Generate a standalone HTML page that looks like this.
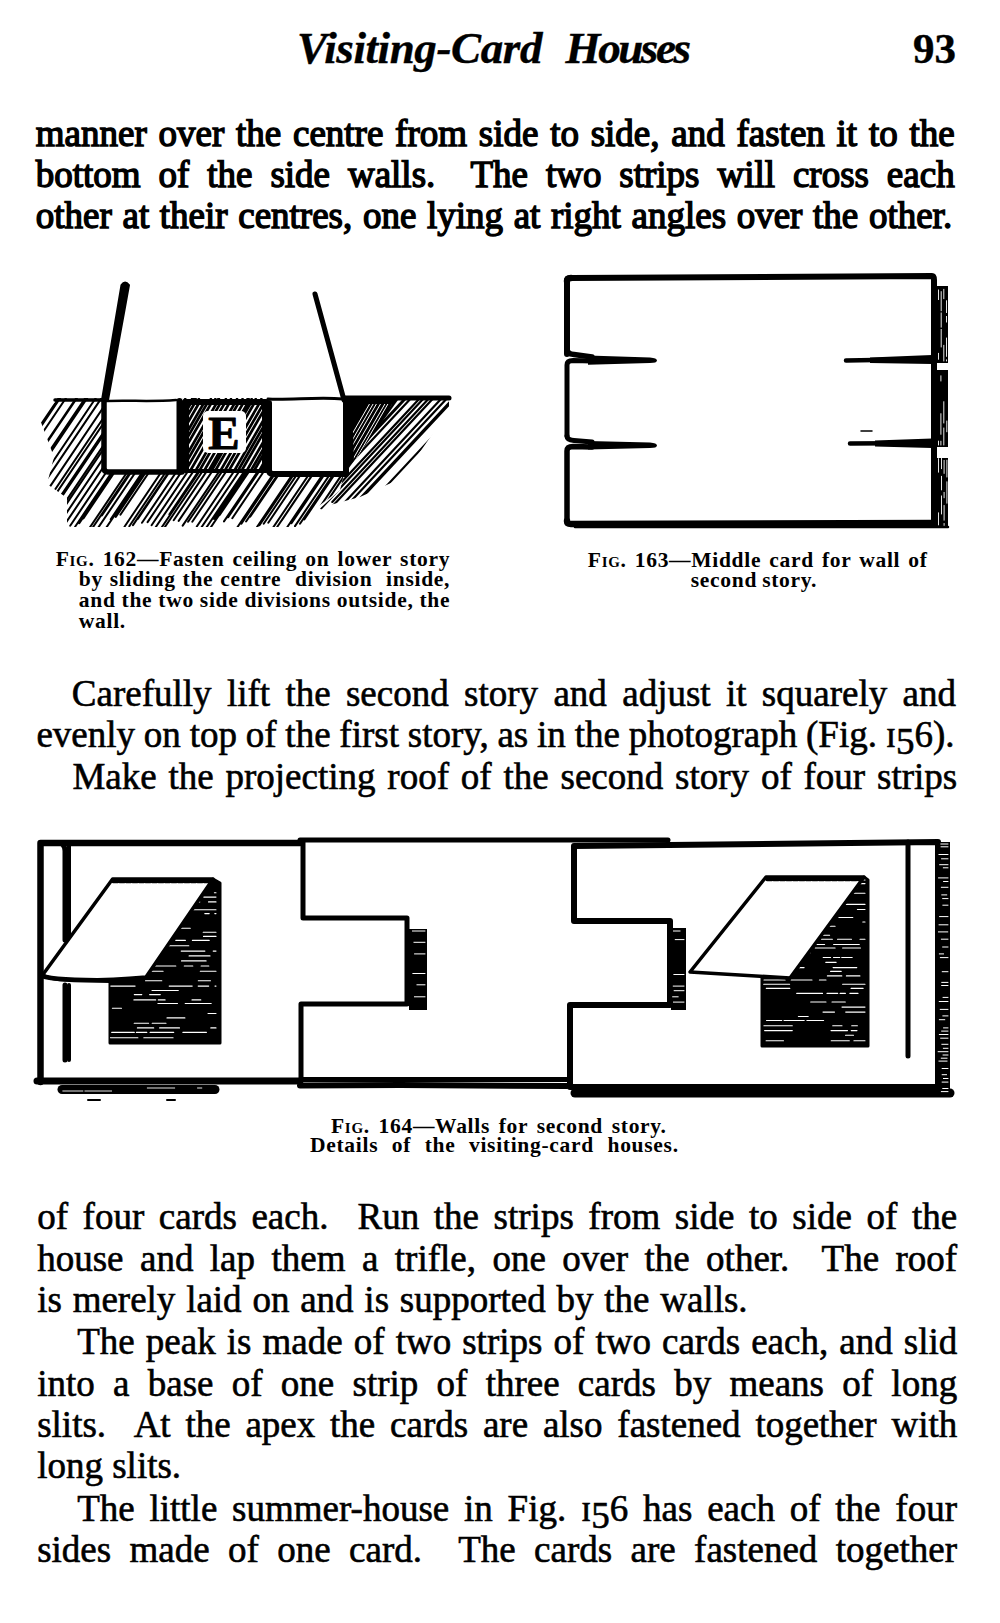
<!DOCTYPE html><html><head><meta charset="utf-8"><style>
html,body{margin:0;padding:0;background:#fff}
#pg{position:relative;width:1000px;height:1623px;overflow:hidden;background:#fff;font-family:"Liberation Serif",serif;color:#000}
.l{position:absolute;white-space:pre;margin:0}
.sc{font-variant:small-caps}
.o5{position:relative;top:7px}
.b1{-webkit-text-stroke:1.4px #000}
.b{-webkit-text-stroke:0.6px #000}
.c{}
.h{-webkit-text-stroke:0.4px #000}
svg{position:absolute;left:0;top:0}
</style></head><body><div id="pg">
<div class="l h" style="left:297.0px;top:25.8px;font-size:45px;line-height:45px;font-weight:700;font-style:italic;letter-spacing:-0.39px;">Visiting-Card</div>
<div class="l h" style="left:565.6px;top:25.8px;font-size:45px;line-height:45px;font-weight:700;font-style:italic;letter-spacing:-2.43px;">Houses</div>
<div class="l h" style="left:913.0px;top:27.0px;font-size:43px;line-height:43px;font-weight:700;">93</div>
<div class="l b1" style="left:35.8px;top:115.0px;font-size:37px;line-height:37px;word-spacing:2.51px;">manner over the centre from side to side, and fasten it to the</div>
<div class="l b1" style="left:35.8px;top:156.0px;font-size:37px;line-height:37px;word-spacing:8.67px;">bottom of the side walls.  The two strips will cross each</div>
<div class="l b1" style="left:35.8px;top:197.0px;font-size:37px;line-height:37px;word-spacing:1.39px;">other at their centres, one lying at right angles over the other.</div>
<div class="l b" style="left:71.8px;top:675.0px;font-size:37px;line-height:37px;word-spacing:6.11px;">Carefully lift the second story and adjust it squarely and</div>
<div class="l b" style="left:36.4px;top:716.0px;font-size:37px;line-height:37px;word-spacing:-0.44px;">evenly on top of the first story, as in the photograph (Fig. <span class="o1">ɪ</span><span class="o5">5</span>6).</div>
<div class="l b" style="left:72.4px;top:758.0px;font-size:37px;line-height:37px;word-spacing:2.58px;">Make the projecting roof of the second story of four strips</div>
<div class="l b" style="left:37.2px;top:1198.4px;font-size:37px;line-height:37px;word-spacing:5.32px;">of four cards each.  Run the strips from side to side of the</div>
<div class="l b" style="left:37.2px;top:1239.6px;font-size:37px;line-height:37px;word-spacing:7.20px;">house and lap them a trifle, one over the other.  The roof</div>
<div class="l b" style="left:37.2px;top:1281.0px;font-size:37px;line-height:37px;word-spacing:1.52px;">is merely laid on and is supported by the walls.</div>
<div class="l b" style="left:77.2px;top:1323.4px;font-size:37px;line-height:37px;word-spacing:1.84px;">The peak is made of two strips of two cards each, and slid</div>
<div class="l b" style="left:37.2px;top:1364.6px;font-size:37px;line-height:37px;word-spacing:9.02px;">into a base of one strip of three cards by means of long</div>
<div class="l b" style="left:37.2px;top:1406.0px;font-size:37px;line-height:37px;word-spacing:5.55px;">slits.  At the apex the cards are also fastened together with</div>
<div class="l b" style="left:37.2px;top:1447.4px;font-size:37px;line-height:37px;">long slits.</div>
<div class="l b" style="left:77.2px;top:1490.0px;font-size:37px;line-height:37px;word-spacing:5.54px;">The little summer-house in Fig. <span class="o1">ɪ</span><span class="o5">5</span>6 has each of the four</div>
<div class="l b" style="left:37.2px;top:1531.0px;font-size:37px;line-height:37px;word-spacing:9.14px;">sides made of one card.  The cards are fastened together</div>
<div class="l c" style="left:55.7px;top:549.0px;font-size:21.5px;line-height:21.5px;font-weight:700;letter-spacing:0.7px;word-spacing:2.08px;">F<span class="sc">ig</span>. 162—Fasten ceiling on lower story</div>
<div class="l c" style="left:78.8px;top:569.0px;font-size:21.5px;line-height:21.5px;font-weight:700;letter-spacing:0.7px;word-spacing:0.81px;">by sliding the centre  division  inside,</div>
<div class="l c" style="left:78.8px;top:590.0px;font-size:21.5px;line-height:21.5px;font-weight:700;letter-spacing:0.7px;word-spacing:-0.09px;">and the two side divisions outside, the</div>
<div class="l c" style="left:78.8px;top:611.0px;font-size:21.5px;line-height:21.5px;font-weight:700;letter-spacing:0.7px;">wall.</div>
<div class="l c" style="left:587.8px;top:550.0px;font-size:21.5px;line-height:21.5px;font-weight:700;letter-spacing:0.7px;word-spacing:2.03px;">F<span class="sc">ig</span>. 163—Middle card for wall of</div>
<div class="l c" style="left:690.8px;top:569.5px;font-size:21.5px;line-height:21.5px;font-weight:700;letter-spacing:0.7px;word-spacing:-1.06px;">second story.</div>
<div class="l c" style="left:331.0px;top:1116.0px;font-size:21.5px;line-height:21.5px;font-weight:700;letter-spacing:0.7px;word-spacing:2.67px;">F<span class="sc">ig</span>. 164—Walls for second story.</div>
<div class="l c" style="left:310.0px;top:1135.0px;font-size:21.5px;line-height:21.5px;font-weight:700;letter-spacing:0.7px;word-spacing:0.71px;">Details  of  the  visiting-card  houses.</div>
<svg width="1000" height="1623" viewBox="0 0 1000 1623">
<defs>
<pattern id="h1" patternUnits="userSpaceOnUse" width="4.6" height="10" patternTransform="rotate(35)">
<rect x="0" y="0" width="2.3" height="10" fill="#000"/></pattern>
<pattern id="h2" patternUnits="userSpaceOnUse" width="3.6" height="10" patternTransform="rotate(30)">
<rect x="0" y="0" width="2.1" height="10" fill="#000"/></pattern>
<pattern id="h3" patternUnits="userSpaceOnUse" width="4.6" height="10" patternTransform="rotate(48)">
<rect x="0" y="0" width="2.2" height="10" fill="#000"/></pattern>
<clipPath id="c162a"><polygon points="55,398 345,398 345,470 340,490 312,511 302,527 67,527 67,498 47,484 54,457 39,417 55,402"/></clipPath>
<clipPath id="c162b"><polygon points="345,396 449,396 449,410 402,478 360,497 330,505 300,527 340,490 345,470"/></clipPath>
<clipPath id="c162w"><polygon points="352,404 392,404 354,462"/></clipPath>
<clipPath id="c162c"><rect x="189" y="405" width="73" height="64"/></clipPath>
<clipPath id="c162"><polygon points="40,404 449,400 449,410 402,478 360,497 312,511 302,526 70,528 48,482 38,421"/></clipPath>
<clipPath id="cw1"><polygon points="213,879 220,883 220,1043 110,1043 110,980 146,977"/></clipPath>
<clipPath id="cw2"><polygon points="864,877 868,880 868,1046 762,1046 762,978 790,978"/></clipPath>
</defs>
<g fill="none" stroke="#000" stroke-linecap="round" stroke-linejoin="round">
<g clip-path="url(#c162a)"><path d="M-60.0 525.0L25.7 398.0M-55.5 526.7L31.3 398.0M-51.2 517.8L29.6 398.0M-46.8 515.1L32.2 398.0M-41.7 514.7L37.0 398.0M-37.7 523.9L47.2 398.0M-33.2 515.9L46.3 398.0M-28.0 527.1L59.1 398.0M-24.0 522.8L60.2 398.0M-19.8 514.6L58.8 398.0M-14.5 517.3L66.0 398.0M-10.2 526.2L76.3 398.0M-6.4 521.6L77.0 398.0M-1.7 528.2L86.2 398.0M2.9 520.2L85.3 398.0M8.1 515.5L87.3 398.0M12.3 521.9L95.8 398.0M16.6 523.7L101.5 398.0M21.5 516.7L101.6 398.0M25.0 523.6L109.7 398.0M29.8 527.0L116.9 398.0M35.0 524.8L120.6 398.0M39.1 529.8L128.0 398.0M43.2 521.9L126.7 398.0M48.4 516.6L128.4 398.0M52.0 521.7L135.4 398.0M56.6 518.6L138.0 398.0M62.1 519.4L144.0 398.0M66.6 521.7L150.0 398.0M70.2 525.7L156.3 398.0M75.1 526.7L161.9 398.0M79.3 523.3L163.8 398.0M83.4 518.4L164.6 398.0M88.6 529.3L177.2 398.0M92.7 527.6L180.1 398.0M97.1 529.3L185.6 398.0M101.9 515.5L181.2 398.0M106.1 527.9L193.7 398.0M110.7 519.2L192.4 398.0M115.8 516.9L196.0 398.0M120.4 514.7L199.2 398.0M124.5 526.7L211.2 398.0M129.3 526.2L215.7 398.0M133.0 525.1L218.7 398.0M137.8 519.0L219.3 398.0M142.0 522.8L226.2 398.0M147.6 522.1L231.3 398.0M151.6 525.2L237.4 398.0M155.8 527.0L242.9 398.0M160.0 529.9L249.0 398.0M164.9 527.0L252.0 398.0M169.4 514.3L247.9 398.0M173.7 520.2L256.1 398.0M178.7 520.9L261.7 398.0M182.7 525.6L268.7 398.0M188.1 521.8L271.6 398.0M192.3 521.7L275.7 398.0M196.8 526.5L283.5 398.0M201.2 527.7L288.7 398.0M205.6 528.7L293.8 398.0M209.4 529.4L298.1 398.0M214.1 519.0L295.7 398.0M219.5 515.3L298.6 398.0M224.0 521.4L307.3 398.0M228.2 517.3L308.6 398.0M232.3 518.2L313.3 398.0M237.2 527.5L324.6 398.0M241.4 523.6L326.1 398.0M246.1 521.5L329.4 398.0M250.2 516.8L330.4 398.0M255.4 529.4L344.0 398.0M259.5 525.3L345.3 398.0M263.7 523.7L348.5 398.0M268.3 522.7L352.4 398.0M272.6 528.3L360.5 398.0M277.0 527.2L364.1 398.0M281.7 520.4L364.3 398.0M287.0 527.5L374.3 398.0M291.5 523.3L376.0 398.0M295.0 526.1L381.4 398.0M300.0 523.7L384.8 398.0M304.3 519.4L386.2 398.0M308.5 524.0L393.5 398.0M313.1 522.2L396.9 398.0M318.0 514.9L396.9 398.0M322.0 524.5L407.3 398.0M327.2 522.6L411.3 398.0M331.9 522.4L415.8 398.0M336.0 514.6L414.7 398.0M340.5 516.8L420.6 398.0M345.5 527.6L432.9 398.0M350.0 517.5L430.6 398.0M353.9 528.5L441.9 398.0M357.9 529.0L446.3 398.0M363.3 523.8L448.2 398.0M367.5 516.6L447.5 398.0M372.1 517.3L452.5 398.0M376.3 525.8L462.6 398.0M381.0 520.5L463.7 398.0M384.9 519.8L467.1 398.0" stroke="#000" stroke-width="2.0" stroke-linecap="round" fill="none"/></g>
<g clip-path="url(#c162b)"><path d="M250.6 503.1L348.6 398.0M255.3 502.7L352.9 398.0M260.8 505.1L360.7 398.0M267.0 520.5L381.2 398.0M272.1 501.1L368.2 398.0M277.6 504.2L376.6 398.0M283.1 517.0L394.1 398.0M289.0 513.5L396.7 398.0M294.2 517.2L405.3 398.0M299.1 518.2L411.2 398.0M310.5 500.7L406.3 398.0M316.5 509.0L420.0 398.0M321.3 508.2L424.0 398.0M327.2 511.9L433.5 398.0M332.3 501.9L429.3 398.0M338.5 508.9L441.9 398.0M344.0 508.8L447.3 398.0M348.8 512.0L455.1 398.0M354.5 504.2L453.6 398.0M360.2 514.2L468.6 398.0M371.0 518.2L483.1 398.0M376.6 511.0L481.9 398.0M382.3 516.4L492.6 398.0M387.9 507.8L490.3 398.0M393.0 520.7L507.5 398.0M398.7 507.5L500.8 398.0M404.6 505.9L505.2 398.0M409.2 502.6L506.7 398.0M414.5 504.0L513.3 398.0M420.8 504.6L520.2 398.0M425.9 518.4L538.1 398.0M431.5 500.7L527.3 398.0M437.0 516.5L547.5 398.0M442.0 505.1L541.8 398.0M448.2 503.5L546.5 398.0M459.0 513.3L566.5 398.0" stroke="#000" stroke-width="2.2" stroke-linecap="round" fill="none"/></g>
<polygon points="344,400 398,400 346,472" fill="#000" stroke="none"/>
<g clip-path="url(#c162w)"><path d="M330.5 471.5L371.8 400.0M334.0 471.8L375.4 400.0M337.5 471.3L378.7 400.0M342.1 470.5L382.8 400.0M346.5 470.4L387.2 400.0M349.6 470.3L390.2 400.0M354.4 470.3L395.0 400.0M358.4 470.4L399.1 400.0" stroke="#fff" stroke-width="1.0" stroke-linecap="round" fill="none"/></g>
<rect x="104" y="396" width="78" height="75" fill="#fff" stroke="none"/>
<rect x="267" y="395" width="80" height="79" fill="#fff" stroke="none"/>
<rect x="182" y="399" width="87" height="74" fill="#000" stroke="none" rx="3"/>
<rect x="189" y="405" width="73" height="64" fill="#fff" stroke="none"/>
<g clip-path="url(#c162c)"><path d="M129.5 471.9L168.7 404.0M133.9 470.8L172.5 404.0M138.5 470.9L177.2 404.0M142.8 470.2L181.0 404.0M146.7 471.5L185.6 404.0M151.6 471.2L190.4 404.0M155.6 470.7L194.2 404.0M159.6 471.3L198.5 404.0M164.3 471.4L203.3 404.0M168.5 470.4L206.8 404.0M172.5 470.4L210.8 404.0M177.7 470.6L216.1 404.0M181.4 470.7L219.9 404.0M185.4 471.1L224.2 404.0M189.9 471.4L228.8 404.0M195.0 471.8L234.2 404.0M198.7 472.0L237.9 404.0M203.7 471.6L242.7 404.0M208.0 471.9L247.2 404.0M211.6 470.7L250.1 404.0M215.6 470.2L253.8 404.0M219.8 471.9L259.0 404.0M225.0 470.3L263.3 404.0M228.8 470.8L267.4 404.0M233.7 471.8L272.8 404.0M237.9 470.8L276.5 404.0M241.7 470.5L280.1 404.0M246.5 471.1L285.2 404.0M250.5 471.3L289.3 404.0M254.2 470.5L292.6 404.0M259.1 471.1L297.8 404.0M262.7 470.9L301.3 404.0M268.0 471.6L307.1 404.0M271.8 471.4L310.7 404.0M276.2 470.2L314.4 404.0M280.5 471.1L319.3 404.0M285.3 471.8L324.4 404.0M289.3 471.0L328.0 404.0M293.2 470.6L331.7 404.0M297.6 471.9L336.8 404.0" stroke="#000" stroke-width="2.7" stroke-linecap="round" fill="none"/></g>
<rect x="203" y="411" width="43" height="42" rx="5" fill="#fff" stroke="none"/>
<text x="224" y="449" font-family="Liberation Serif" font-weight="700" font-size="47" text-anchor="middle" fill="#000" stroke="#000" stroke-width="1">E</text>
<path d="M55 400H104" stroke-width="3.5"/>
<path d="M106 401 C130 400 150 402 176 400" stroke-width="2.5"/>
<path d="M268 399 C290 400 320 397 343 399" stroke-width="3"/>
<path d="M345 398H449" stroke-width="5"/>
<path d="M104 400V468Q104 472 108 472H182" stroke-width="5.5"/>
<path d="M179.5 401V472" stroke-width="6"/>
<path d="M269 403V470Q269 474 273 474H346V400" stroke-width="6"/>
<path d="M121.5 285Q125 280 129 285L124.5 310L108 400L102 400Z" fill="#000" stroke="#000" stroke-width="2"/>
<path d="M315 294 L344 400" stroke-width="5"/>
<path d="M567 354V281Q567 278 571 278L932 276Q934 276 934 280V521" stroke-width="6"/>
<path d="M567 281V349Q567 354 574 354.5L592 357" stroke-width="5.5"/>
<path d="M567 436V365Q567 360.5 573 360.5L592 361" stroke-width="5"/>
<path d="M588 355.5L650 357.5Q657 358 657 360.5Q657 363 650 363L588 364.8Z" fill="#000" stroke="none"/>
<path d="M567 436Q567 440 574 440.5L592 442" stroke-width="5"/>
<path d="M567 521V451Q567 446.5 573 446.5L592 447" stroke-width="5.5"/>
<path d="M588 441L650 442.5Q657 443 657 445.5Q657 448 650 448L588 449.5Z" fill="#000" stroke="none"/>
<path d="M567 521Q567 524 571 524L935 523" stroke-width="6.5"/>
<path d="M567 281Q567 278 571 278" stroke-width="6.5"/>
<path d="M846 360.5L932 359" stroke-width="4.5"/>
<polygon points="870,357.5 932,355 932,364 870,363" fill="#000" stroke="none"/>
<path d="M850 443.5L932 443" stroke-width="4.5"/>
<polygon points="875,440.5 932,438.5 932,448 875,446.5" fill="#000" stroke="none"/>
<path d="M861 431h11" stroke-width="1.5"/>
<rect x="936" y="286" width="12" height="77" fill="#000" stroke="none"/>
<path d="M938.5 289.9v9.7M938.5 353.3v6.0M941.2 291.6v19.2M941.2 312.9v14.3M941.2 329.4v17.6M943.8 289.3v9.4M943.8 345.3v15.7M946.5 300.7v11.9M946.5 316.4v5.7M946.5 338.0v18.4M946.5 359.8v1.2" stroke="#fff" stroke-width="0.9" fill="none"/>
<rect x="936" y="370" width="12" height="77" fill="#000" stroke="none"/>
<path d="M938.5 441.1v3.9M940.9 375.8v5.2M940.9 413.7v20.6M940.9 441.2v3.8M943.8 401.7v21.3M943.8 428.0v17.0M946.8 421.0v10.8" stroke="#fff" stroke-width="0.9" fill="none"/>
<rect x="936" y="458" width="12" height="70" fill="#000" stroke="none"/>
<path d="M938.5 458.6v13.6M938.5 512.8v12.2M941.5 458.2v10.5M941.5 476.3v13.6M941.5 495.9v18.1M944.1 460.4v13.0M944.1 492.4v5.4M944.1 505.5v14.7M944.1 523.5v2.5M946.9 460.2v16.8M946.9 481.8v21.4" stroke="#fff" stroke-width="0.9" fill="none"/>
<path d="M575 527H948" stroke-width="2.5"/>
<path d="M40.5 1082V843H300" stroke-width="6.5"/>
<path d="M63 845Q65 847 65 851V940M65 985V1060" stroke-width="5"/>
<path d="M69 844V940M69 985V1060" stroke-width="4"/>
<path d="M37 1081H300" stroke-width="7"/>
<path d="M62 1089.5H215" stroke-width="9"/>
<path d="M147.3 1088.0h27.4M197.5 1088.0h4.3M62.8 1091.0h20.1M84.9 1091.0h26.7" stroke="#fff" stroke-width="0.9" fill="none"/>
<path d="M88 1100h12M167 1100h8" stroke-width="2"/>
<polygon points="213,879 220,883 220,1043 110,1043 110,980 146,977" fill="#000" stroke="#000" stroke-width="3"/>
<g clip-path="url(#cw1)"><path d="M183.3 882.0h6.4M146.9 887.3h8.9M158.1 887.3h16.1M146.3 892.7h10.0M158.9 892.7h23.9M214.4 892.7h1.6M115.9 897.1h14.3M137.3 897.1h24.2M184.9 897.1h7.1M203.8 897.1h12.2M110.8 901.9h20.7M136.9 901.9h9.5M156.2 901.9h24.9M190.2 901.9h9.5M208.5 901.9h7.5M111.5 905.8h24.1M140.0 905.8h5.9M173.5 909.7h15.0M190.7 909.7h25.3M114.9 913.6h19.5M137.9 913.6h22.7M204.8 913.6h4.4M214.8 913.6h1.2M161.8 918.2h7.6M111.9 923.0h30.0M143.6 928.2h20.2M170.5 928.2h19.8M114.4 932.3h19.1M203.2 932.3h12.8M114.1 936.4h9.3M132.6 936.4h21.2M203.5 936.4h12.5M175.8 940.4h9.6M192.4 940.4h16.8M112.7 945.8h5.9M163.2 945.8h25.6M138.7 951.1h8.7M181.2 951.1h23.7M213.2 951.1h2.8M189.1 955.9h20.9M113.8 960.9h22.7M181.5 960.9h24.6M112.1 966.0h6.2M150.8 966.0h25.0M184.3 966.0h8.5M201.1 966.0h7.7M113.0 971.3h28.7M145.4 971.3h17.7M200.3 971.3h15.7M145.5 980.8h16.3M198.3 980.8h12.2M110.8 986.1h24.3M169.2 986.1h23.0M198.2 986.1h10.5M215.0 986.1h1.0M152.0 990.5h26.3M134.3 994.6h7.5M149.6 994.6h10.7M133.9 999.9h21.8M158.3 999.9h6.8M192.0 999.9h8.8M157.9 1003.5h19.6M185.2 1003.5h26.0M112.4 1008.3h9.1M208.0 1013.5h8.0M167.0 1017.9h17.9M134.2 1023.2h14.4M152.2 1023.2h13.8M137.4 1027.9h16.3M159.6 1027.9h19.9M210.8 1027.9h5.2M111.7 1032.4h22.6M136.4 1032.4h10.4M150.1 1032.4h23.6M182.9 1032.4h23.5M110.4 1037.7h27.5M143.8 1037.7h29.3" stroke="#fff" stroke-width="1.1" fill="none"/></g>
<path d="M112.6 879L213 879L146 977Q100 981 60 979.5Q48 978.5 42.6 975L112.6 879Z" fill="#fff" stroke-width="3.5"/>
<path d="M42 976Q55 980.5 110 980.5" stroke-width="5"/>
<path d="M113 881.5H212" stroke-width="3.5" stroke-dasharray="5 1.5"/>
<path d="M300 840H668" stroke-width="5"/>
<path d="M303 841V918H407V1004H301V1079.5H570" stroke-width="5"/>
<path d="M300 1085.5L400 1085L567 1086" stroke-width="6"/>
<rect x="409" y="929" width="18" height="81" fill="#000" stroke="none"/>
<path d="M412.4 931.0h12.6M413.9 942.3h11.1M414.5 953.9h10.5M412.8 973.5h12.2M416.9 984.8h8.1M414.4 996.8h10.6" stroke="#fff" stroke-width="1" fill="none"/>
<path d="M574 846V921H670V1005H570V1087H938V842L574 846" stroke-width="6"/>
<rect x="671" y="928" width="15" height="82" fill="#000" stroke="none"/>
<path d="M673.4 931.0h6.7M675.2 939.6h8.8M673.8 974.5h10.2M673.2 986.1h10.8M674.1 990.7h9.9M672.6 996.8h5.6M673.4 1002.1h10.6" stroke="#fff" stroke-width="1" fill="none"/>
<path d="M908 842V1056" stroke-width="5"/>
<path d="M575 1093H950" stroke-width="9"/>
<rect x="938" y="842" width="12" height="253" fill="#000" stroke="none"/>
<path d="M940.8 844.0h7.2M941.0 846.8h7.0M938.9 854.5h9.1M941.5 858.8h6.5M939.6 864.7h8.4M943.3 867.8h4.7M938.5 877.9h9.5M943.5 881.5h4.5M941.3 887.3h6.7M941.7 894.9h5.1M942.6 898.6h5.4M942.8 905.2h5.2M939.5 916.6h8.5M939.0 924.8h9.0M938.4 931.9h9.4M941.3 939.2h6.7M942.6 947.0h5.4M939.3 953.9h4.3M940.3 957.6h7.7M942.2 971.7h5.8M941.7 982.4h6.3M941.6 985.5h6.4M943.0 997.4h5.0M939.2 1001.5h8.8M940.2 1009.4h7.8M942.8 1015.9h5.2M939.3 1019.7h5.5M943.5 1027.9h4.5M941.6 1031.1h6.4M939.3 1034.5h8.7M940.6 1038.2h7.4M941.8 1044.3h6.2M943.3 1048.3h4.7M938.1 1051.7h9.9M943.0 1055.0h5.0M941.2 1058.2h5.9M938.9 1061.1h8.2M942.1 1068.5h5.9M942.1 1074.7h4.5M943.4 1078.5h4.6M942.1 1082.1h5.9M942.7 1088.5h5.3M941.3 1091.6h6.7" stroke="#fff" stroke-width="1" fill="none"/>
<polygon points="864,877 868,880 868,1046 762,1046 762,978 790,978" fill="#000" stroke="#000" stroke-width="3"/>
<g clip-path="url(#cw2)"><path d="M789.1 880.0h4.3M851.1 880.0h13.9M821.8 883.6h6.9M847.2 883.6h17.8M785.1 888.6h14.0M843.4 888.6h13.3M762.7 893.3h10.1M806.2 893.3h25.4M837.7 893.3h9.8M852.6 893.3h12.4M766.2 897.1h5.0M775.9 897.1h20.6M802.1 897.1h9.4M766.5 900.9h27.7M798.4 900.9h24.0M826.3 900.9h4.2M811.3 904.4h20.3M841.2 904.4h23.8M799.8 909.5h22.3M857.4 909.5h7.6M838.9 917.5h13.9M780.6 922.0h14.2M815.6 922.0h6.4M862.8 922.0h2.2M763.1 926.3h21.4M802.9 926.3h13.4M819.9 926.3h15.2M765.6 930.6h25.9M783.8 935.2h17.0M805.2 935.2h7.5M819.1 935.2h10.5M790.3 939.2h24.4M821.6 939.2h10.8M837.5 939.2h14.0M860.0 939.2h5.0M779.5 944.5h25.3M812.7 944.5h11.9M833.6 944.5h25.7M763.9 948.0h4.3M771.5 948.0h22.6M797.6 948.0h8.8M815.3 948.0h19.8M842.6 948.0h17.9M789.7 952.7h20.5M767.7 957.5h21.7M823.2 957.5h7.4M833.5 957.5h6.2M841.7 957.5h10.5M767.7 962.4h4.7M781.8 962.4h16.4M825.8 962.4h10.3M782.7 967.6h21.4M833.1 967.6h23.7M765.7 971.4h17.9M830.6 971.4h10.6M765.6 975.9h19.0M827.4 975.9h14.4M846.4 975.9h13.5M764.0 980.0h21.1M791.2 980.0h20.8M819.4 980.0h6.6M763.7 984.3h25.9M842.6 984.3h22.4M766.3 988.4h23.5M851.1 988.4h12.0M796.7 993.4h25.8M827.0 993.4h10.7M840.1 993.4h5.3M849.9 993.4h8.1M810.7 1002.0h15.3M832.0 1002.0h13.3M842.0 1007.1h23.0M823.0 1012.1h11.5M845.7 1012.1h19.3M798.4 1016.5h9.8M766.5 1020.5h15.3M784.0 1020.5h20.2M806.9 1020.5h16.7M763.9 1025.7h28.4M832.7 1025.7h9.3M851.7 1025.7h5.7M764.6 1030.6h27.7M831.0 1030.6h16.5M851.2 1030.6h5.8M845.5 1035.3h8.0M766.1 1040.7h17.4M831.2 1040.7h18.1M853.9 1040.7h11.1" stroke="#fff" stroke-width="1.1" fill="none"/></g>
<path d="M766 877L864 877L790 978L690 972Z" fill="#fff" stroke-width="3.5"/>
<path d="M767 879.5H862" stroke-width="3.5" stroke-dasharray="5 1.5"/>
</g></svg>
</div></body></html>
